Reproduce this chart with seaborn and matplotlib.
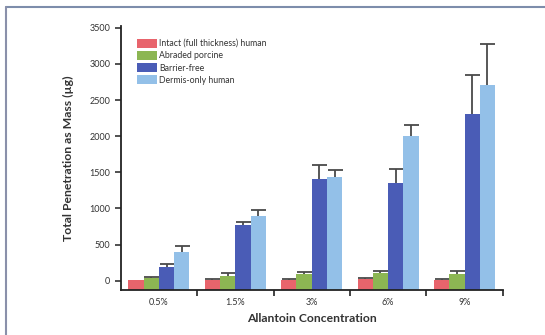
import numpy as np
import pandas as pd
import matplotlib
matplotlib.use("Agg")
import matplotlib.pyplot as plt
from matplotlib.patches import Patch
from matplotlib.lines import Line2D
import seaborn as sns

# values
concentrations = ["0.5%", "1.5%", "3%", "6%", "9%"]
series = ["Intact (full thickness) human", "Abraded porcine", "Barrier-free", "Dermis-only human"]
intact = [4, 17, 17, 26, 6]
abraded = [33, 61, 88, 111, 88]
barrier_free = [190, 766, 1402, 1351, 2301]
dermis = [402, 899, 1434, 2001, 2711]
intact_err = [0, 8, 8, 8, 24]
abraded_err = [18, 41, 32, 27, 50]
barrier_free_err = [45, 51, 194, 194, 539]
dermis_err = [78, 79, 93, 157, 567]
colors = ["#E8646C", "#8CB653", "#4A5CB6", "#93C0E8"]

values = [intact, abraded, barrier_free, dermis]
errors = [intact_err, abraded_err, barrier_free_err, dermis_err]

df = pd.DataFrame({
    "conc": np.tile(concentrations, len(series)),
    "series": np.repeat(series, len(concentrations)),
    "mass": np.concatenate(values),
})

sns.set_style("ticks")
plt.rcParams["font.family"] = ["Lato", "DejaVu Sans"]

fig = plt.figure(figsize=(5.45, 3.35), dpi=100)
ax = fig.add_axes([0.2215, 0.1352, 0.7009, 0.7881])

sns.barplot(data=df, x="conc", y="mass", hue="series", order=concentrations,
            hue_order=series, palette=colors, width=0.8, saturation=1,
            errorbar=None, legend=False, linewidth=0, zorder=2, ax=ax)

ymin, ymax = -124, 3528
ax.set_ylim(ymin, ymax)
ax.set_xlim(-0.5, len(concentrations) - 0.5)

# bars in the original start at the x axis, not at zero; error bars sit behind them
# (lower end pushed below the axis so only the upper cap shows)
for cont, err in zip(ax.containers, errors):
    for bar, e in zip(cont, err):
        top = bar.get_y() + bar.get_height()
        bar.set_y(ymin)
        bar.set_height(top - ymin)
        xc = bar.get_x() + bar.get_width() / 2
        if e > 0:
            ax.errorbar(xc, top, yerr=[[top - ymin + 200], [e]], fmt="none", ecolor="#4a4a4a",
                        elinewidth=1.3, capsize=5.4, capthick=1.3, zorder=1)

ax.set_yticks(np.arange(0, 3501, 500))
ax.set_xticks(np.arange(len(concentrations)) + 0.5, minor=True)
ax.tick_params(axis="x", which="major", length=0, labelsize=6.5, pad=6, colors="#333333")
ax.tick_params(axis="x", which="minor", length=4, width=1.2, color="#222222")
ax.tick_params(axis="y", length=4, width=1.1, labelsize=6.5, color="#222222", labelcolor="#333333")
for s in ["left", "bottom"]:
    ax.spines[s].set_linewidth(1.3)
    ax.spines[s].set_color("#222222")
    ax.spines[s].set_zorder(3)
sns.despine(ax=ax)

ax.set_xlabel("Allantoin Concentration", fontsize=8.7, fontweight="bold", color="#333333", labelpad=4)
ax.set_ylabel("Total Penetration as Mass (µg)", fontsize=8.8, fontweight="bold", color="#333333", labelpad=11)

handles = [Patch(facecolor=c, edgecolor="none") for c in colors]
ax.legend(handles, series, loc="upper left", bbox_to_anchor=(0.042, 0.951), frameon=False,
          fontsize=6.3, handlelength=2.3, handleheight=1.2, labelspacing=0.32,
          handletextpad=0.25, borderpad=0, borderaxespad=0, labelcolor="#333333")

# thin frame around the picture, as in the source figure
fig.add_artist(Line2D([5.5 / 545, 1.0], [1 - 6.5 / 335, 1 - 6.5 / 335], color="#7D8DAB", lw=1.5))
fig.add_artist(Line2D([5.5 / 545, 5.5 / 545], [0, 1 - 6.5 / 335], color="#8A90AA", lw=1.5))

fig.savefig("out.png", dpi=100)
